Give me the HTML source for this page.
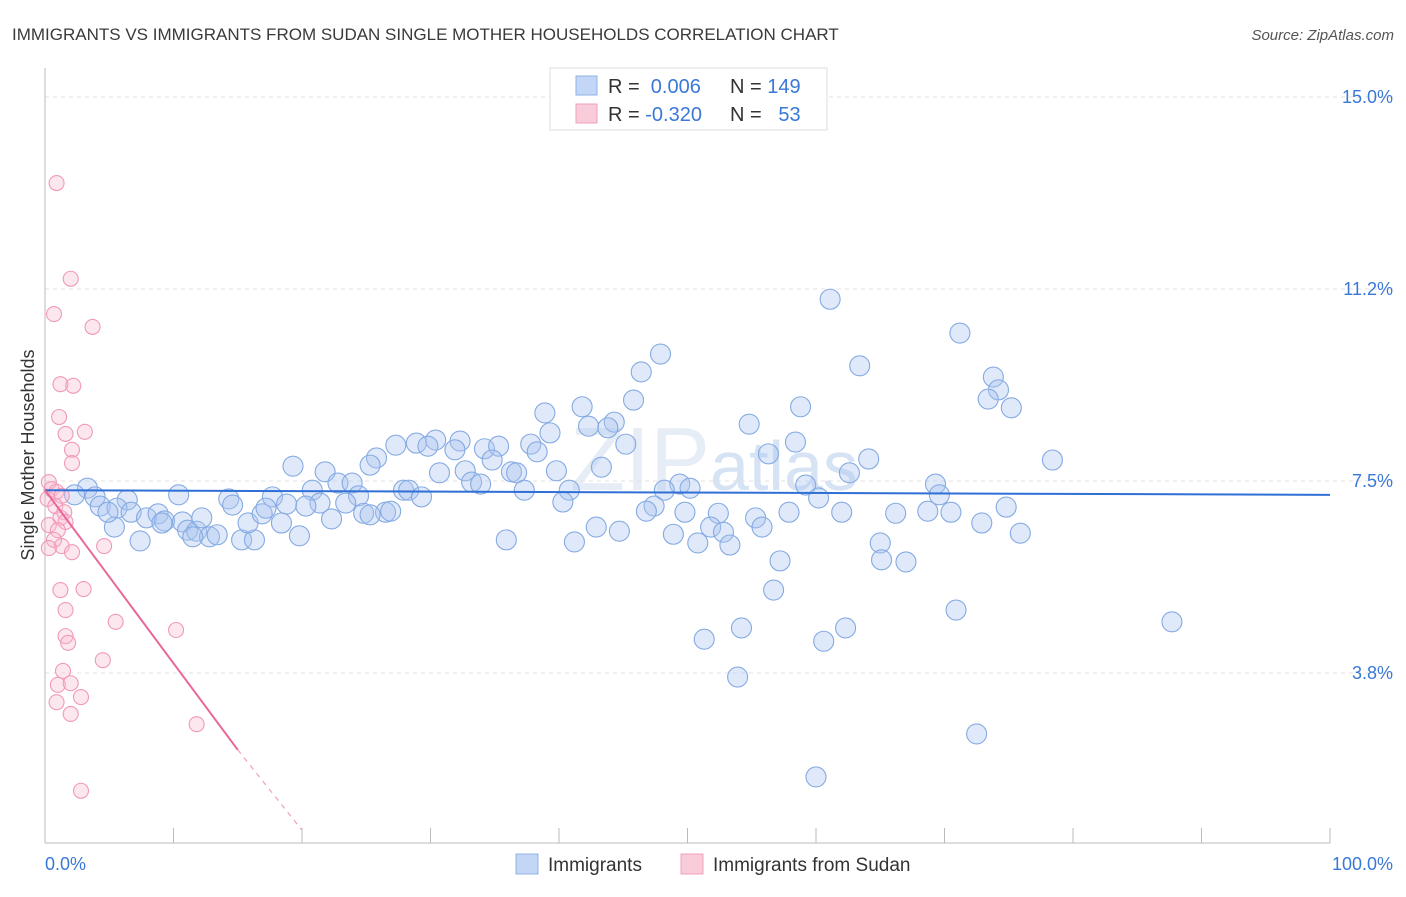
<!DOCTYPE html>
<html><head><meta charset="utf-8"><style>
body{margin:0;background:#fff;font-family:"Liberation Sans",sans-serif}
svg text{font-family:"Liberation Sans",sans-serif}
</style></head><body>
<svg id="chart" width="1406" height="892" xmlns="http://www.w3.org/2000/svg">
<text x="12" y="40" font-size="17" fill="#3a3a3a">IMMIGRANTS VS IMMIGRANTS FROM SUDAN SINGLE MOTHER HOUSEHOLDS CORRELATION CHART</text>
<text x="1394" y="40" font-size="15" fill="#555" text-anchor="end" font-style="italic">Source: ZipAtlas.com</text>
<text x="570" y="490" font-size="90" fill="#e6edf6" font-family="Liberation Serif">ZIP<tspan font-family="Liberation Sans" font-size="70" fill="#d6e3f4">atlas</tspan></text>
<text transform="translate(34,455) rotate(-90)" font-size="18" fill="#333" text-anchor="middle">Single Mother Households</text>
<g id="grid"></g><g id="axes"></g><g id="pts"></g><g id="lines"></g>
<g>
<rect x="550" y="68" width="277" height="62" fill="#fff" stroke="#ddd"/>
<rect x="576" y="76" width="21" height="19" fill="#c3d6f5" stroke="#8fb2e6"/>
<rect x="576" y="104" width="21" height="19" fill="#f9ccda" stroke="#f0a0bd"/>
<text x="608" y="93" font-size="20" fill="#333">R = <tspan fill="#3a78d8">&#160;0.006</tspan><tspan x="730">N = </tspan><tspan fill="#3a78d8">149</tspan></text>
<text x="608" y="121" font-size="20" fill="#333">R = <tspan fill="#3a78d8">-0.320</tspan><tspan x="730">N = </tspan><tspan fill="#3a78d8">&#160;&#160;53</tspan></text>
</g>
<g>
<rect x="516" y="854" width="22" height="20" fill="#c3d6f5" stroke="#8fb2e6"/>
<text x="548" y="871" font-size="19" fill="#333">Immigrants</text>
<rect x="681" y="854" width="22" height="20" fill="#f9ccda" stroke="#f0a0bd"/>
<text x="713" y="871" font-size="19" fill="#333">Immigrants from Sudan</text>
</g>
</svg>
<script>
const yTicks=[15.0,11.25,7.5,3.75];
const yTickLabels=["15.0%","11.2%","7.5%","3.8%"];
const xTickLabels=["0.0%","100.0%"];
const blueX=[61.1,71.2,47.9,63.4,46.4,73.8,74.2,73.4,75.2,58.8,41.8,45.8,38.9,44.3,42.3,43.8,54.8,39.3,45.2,58.4,37.8,38.3,28.9,30.4,32.3,27.3,29.8,31.9,34.2,35.3,25.8,25.3,19.3,21.8,34.8,56.3,64.1,78.4,30.7,32.7,36.3,36.7,39.8,43.3,49.4,62.6,33.2,33.9,22.8,23.9,20.8,27.9,28.3,37.3,40.8,48.2,50.2,59.2,69.3,69.6,60.2,29.3,24.4,17.7,14.3,14.6,18.8,21.4,23.4,10.4,6.4,3.3,2.3,3.9,4.3,5.6,40.3,47.4,46.8,49.8,52.4,57.9,62.0,66.2,68.7,70.5,74.8,72.9,55.3,55.8,51.8,52.8,42.9,44.7,48.9,50.8,53.3,41.2,35.9,65.0,75.9,65.1,67.0,57.2,56.7,70.9,87.7,62.3,54.2,51.3,60.6,53.9,72.5,60.0,6.7,7.9,8.8,9.3,10.7,11.1,11.8,12.2,12.8,13.4,15.3,16.3,15.8,16.9,17.2,18.4,19.8,20.3,22.3,24.8,26.5,26.9,7.4,5.4,4.9,9.1,11.5,25.3];
const blueY=[11.05,10.39,9.98,9.75,9.63,9.53,9.28,9.10,8.93,8.95,8.95,9.08,8.83,8.65,8.57,8.54,8.61,8.44,8.22,8.26,8.22,8.07,8.24,8.30,8.28,8.20,8.18,8.11,8.13,8.18,7.95,7.81,7.79,7.68,7.91,8.03,7.93,7.91,7.66,7.70,7.68,7.66,7.70,7.77,7.44,7.66,7.48,7.44,7.46,7.46,7.32,7.32,7.32,7.32,7.32,7.32,7.36,7.42,7.44,7.23,7.17,7.19,7.21,7.19,7.15,7.03,7.05,7.07,7.07,7.23,7.13,7.36,7.23,7.19,7.01,6.97,7.09,7.01,6.91,6.89,6.87,6.89,6.89,6.87,6.91,6.89,6.99,6.68,6.78,6.60,6.60,6.50,6.60,6.52,6.46,6.29,6.25,6.31,6.35,6.29,6.48,5.96,5.92,5.94,5.37,4.98,4.75,4.63,4.63,4.41,4.37,3.67,2.56,1.72,6.89,6.78,6.86,6.72,6.70,6.54,6.52,6.78,6.41,6.45,6.35,6.35,6.68,6.86,6.97,6.68,6.43,7.01,6.76,6.87,6.89,6.91,6.33,6.60,6.89,6.68,6.41,6.84];
const pinkX=[0.9,2.0,0.7,3.7,1.2,2.2,1.1,3.1,1.6,2.1,2.1,0.3,0.5,0.9,1.3,0.2,0.8,1.5,1.2,1.6,0.3,1.0,0.7,1.3,4.6,2.1,0.3,1.2,3.0,1.6,5.5,10.2,1.6,1.8,4.5,1.4,1.0,2.0,2.8,0.9,2.0,11.8,2.8];
const pinkY=[13.32,11.45,10.76,10.51,9.39,9.36,8.75,8.46,8.42,8.11,7.85,7.48,7.34,7.29,7.21,7.15,7.01,6.89,6.78,6.70,6.64,6.54,6.35,6.23,6.23,6.11,6.19,5.37,5.39,4.98,4.75,4.59,4.47,4.34,4.00,3.79,3.52,3.55,3.28,3.18,2.95,2.75,1.45];
const blueFit=[7.32,7.23];
const pinkFit=[7.32,2.25,0.68];
const pinkFitX=[0,15,20];
const NS="http://www.w3.org/2000/svg";
const X=v=>45+v*12.85, Y=v=>97+(15-v)*51.2;
function mk(tag,attrs,parent){const e=document.createElementNS(NS,tag);for(const k in attrs)e.setAttribute(k,attrs[k]);document.getElementById(parent).appendChild(e);return e;}
yTicks.forEach((t,i)=>{
 const l=mk('line',{x1:45,x2:1393,y1:Y(t),y2:Y(t),stroke:'#e2e2e2','stroke-dasharray':'4,4'},'grid');
 
 
 const tx=mk('text',{x:1393,y:Y(t)+6,'font-size':18,fill:'#3a78d8','text-anchor':'end'},'grid');
 tx.textContent=yTickLabels[i];
 
 
});
const ax=mk('line',{x1:45,x2:45,y1:68,y2:843,stroke:'#bbb'},'axes');


const bx=mk('line',{x1:45,x2:1330,y1:843,y2:843,stroke:'#bbb'},'axes');


for(let i=1;i<=10;i++){
 const t=mk('line',{x1:X(i*10),x2:X(i*10),y1:828,y2:843,stroke:'#bbb'},'axes');
 
 
}
[[0,'start',45],[100,'end',1393]].forEach((d,i)=>{
 const t=mk('text',{x:d[2],y:870,'font-size':18,fill:'#3a78d8','text-anchor':d[1]},'axes');
 t.textContent=xTickLabels[i];
 
 
});
blueX.forEach((x,i)=>{
 const c=mk('circle',{cx:X(x),cy:Y(blueY[i]),r:10,fill:'rgba(170,198,240,0.38)',stroke:'#85aae3','stroke-width':1.1},'pts');
 
 
});
pinkX.forEach((x,i)=>{
 const c=mk('circle',{cx:X(x),cy:Y(pinkY[i]),r:7.5,fill:'rgba(248,185,208,0.35)',stroke:'#f099b8','stroke-width':1.1},'pts');
 
 
});
const bl=mk('line',{x1:X(0),y1:Y(blueFit[0]),x2:X(100),y2:Y(blueFit[1]),stroke:'#2f6fd6','stroke-width':2},'lines');


const pl=mk('line',{x1:X(pinkFitX[0]),y1:Y(pinkFit[0]),x2:X(pinkFitX[1]),y2:Y(pinkFit[1]),stroke:'#e8679a','stroke-width':2},'lines');


const pd=mk('line',{x1:X(pinkFitX[1]),y1:Y(pinkFit[1]),x2:X(pinkFitX[2]),y2:Y(pinkFit[2]),stroke:'#f0a0bd','stroke-width':1.2,'stroke-dasharray':'5,5'},'lines');


</script>
</body></html>
